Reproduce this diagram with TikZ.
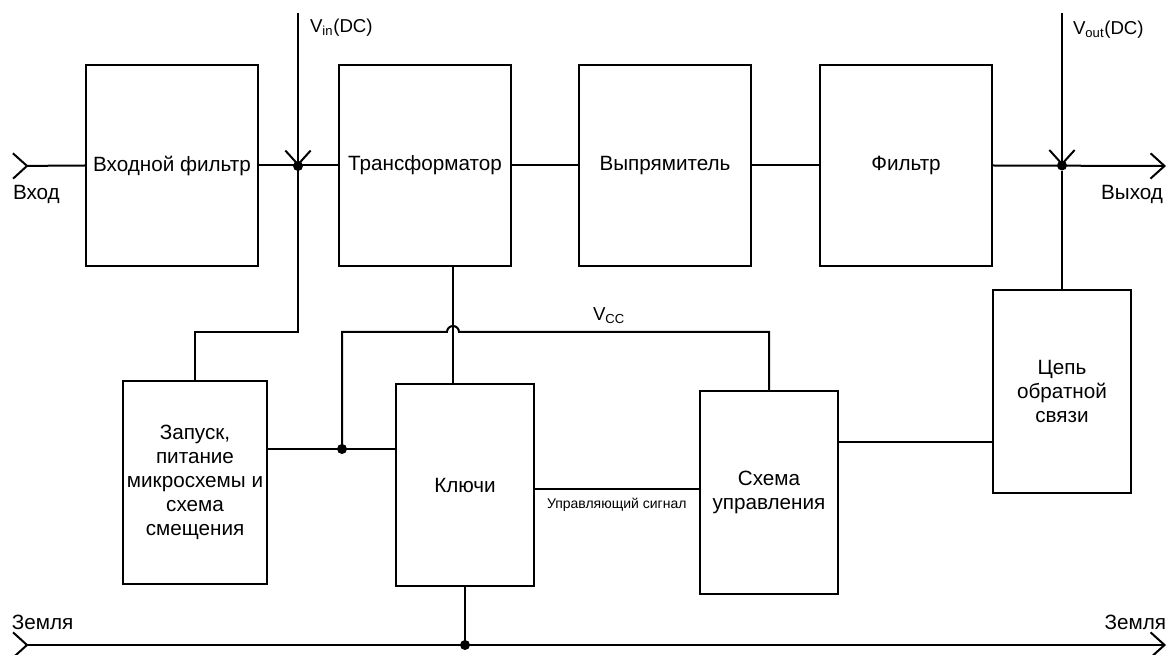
\documentclass[tikz,border=0pt]{standalone}
\usepackage{fontspec}
\setmainfont{Liberation Sans}
\usetikzlibrary{positioning,arrows.meta}

\begin{document}
\begin{tikzpicture}[x=0.75pt,y=-0.75pt,line width=1.5pt,
  blk/.style={draw,minimum width=129pt,minimum height=151pt,align=center,
    font=\fontsize{15.5}{18}\selectfont},
  sblk/.style={blk,minimum width=104pt,minimum height=152pt},
  lbl/.style={inner sep=0pt,font=\fontsize{15.5}{18}\selectfont},
  vlbl/.style={inner sep=0pt,font=\fontsize{14}{16}\selectfont},
  jdot/.style={circle,fill,inner sep=0pt,minimum size=7.5pt},
  tobarb/.style={-{Straight Barb[length=10.5pt,width=19pt]}},
  frombarb/.style={{Straight Barb[reversed,length=10.5pt,width=19pt]}-}]

 \useasboundingbox (0,0) rectangle (1169,655);

 % top row
 \node[blk] (infilt) at (172,165.5) {Входной фильтр};
 \node[blk,right=59.25pt of infilt] (trans) {Трансформатор};
 \node[blk,right=49.5pt of trans] (rect) {Выпрямитель};
 \node[blk,right=50.25pt of rect] (filt) {Фильтр};

 % bottom row
 \node[sblk] (start) at (195,482.5) {Запуск,\\питание\\микросхемы и\\схема\\смещения};
 \node[sblk] (keys) at (465,485) {Ключи};
 \node[sblk] (ctrl) at (769,492.5) {Схема\\управления};
 \node[sblk] (fb) at (1062,391.5) {Цепь\\обратной\\связи};

 % junctions and line ends
 \node[jdot] (vin) at (298,166) {};
 \node[jdot] (vout) at (fb.north |- filt.east) {};
 \node[jdot] (vcc) at (342,449) {};
 \node[jdot] (gnd) at (keys.south |- 0,645) {};
 \coordinate (in) at (12,166);
 \coordinate (out) at (1166,166);
 \coordinate (vintop) at (298,13);
 \coordinate (vouttop) at (1062,13);
 \coordinate (gl) at (12,645);
 \coordinate (gr) at (1166,645);
 \coordinate (hop) at (447,332);
 \coordinate (sig) at (0,489);
 \coordinate (fbl) at (0,442);

 % main path
 \draw[frombarb] (in) -- (infilt.west);
 \draw (infilt.east) -- (trans.west)
 (trans) -- (rect)
 (rect) -- (filt);
 \draw[tobarb] (filt.east) -- (out);
 \draw[tobarb] (vintop) -- (vin.center);
 \draw[tobarb] (vouttop) -- (vout.center);

 % feeds to the bottom row
 \draw (vin.center) -- ++(0,166) -| (start.north);
 \draw ([xshift=21pt]trans.south) -- ([xshift=21pt]trans.south |- keys.north);
 \draw (start.east |- vcc) -- (keys.west |- vcc);
 \draw (vcc.center) |- (hop) arc[start angle=180,end angle=360,radius=6] -| (ctrl.north);
 \draw (keys.east |- sig) -- (ctrl.west |- sig)
 node[pos=0,anchor=north west,inner sep=0pt,xshift=8pt,yshift=-6pt,
   font=\fontsize{10.5}{12}\selectfont] {Управляющий сигнал};
 \draw (ctrl.east |- fbl) -- (fb.west |- fbl);
 \draw (vout) -- (fb.north);

 % ground
 \draw (keys.south) -- (gnd.center);
 \draw[{Straight Barb[reversed,length=10.5pt,width=19pt]}-{Straight Barb[length=10.5pt,width=19pt]}] (gl) -- (gr);

 % labels
 \node[lbl,anchor=west] at (12,194) {Вход};
 \node[lbl,anchor=east] at (1164,194) {Выход};
 \node[lbl,anchor=west] at (11,622) {Земля};
 \node[lbl,anchor=east] at (1167,622) {Земля};
 \node[vlbl,anchor=west] at (309,28) {V\textsubscript{in}(DC)};
 \node[vlbl,anchor=west] at (1072,30) {V\textsubscript{out}(DC)};
 \node[vlbl,anchor=west] at (592,316) {V\textsubscript{CC}};

\end{tikzpicture}
\end{document}
